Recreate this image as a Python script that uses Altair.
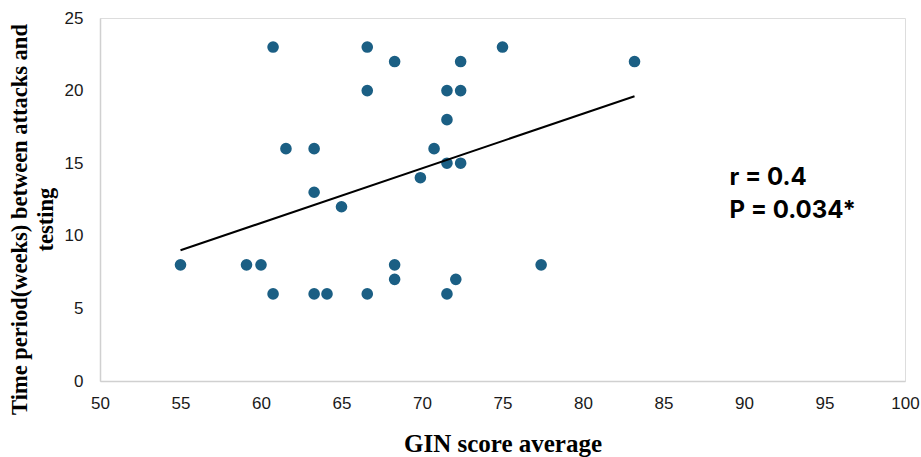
import altair as alt
import pandas as pd

gin_score = [55.0, 59.1, 60.0, 60.75, 60.75, 61.55, 63.3, 63.3, 63.3, 64.1,
             65.0, 66.6, 66.6, 66.6, 68.3, 68.3, 68.3, 69.9, 70.75, 71.55,
             71.55, 71.55, 71.55, 72.1, 72.4, 72.4, 72.4, 75.0, 77.4, 83.2]
weeks = [8, 8, 8, 23, 6, 16, 16, 13, 6, 6,
         12, 23, 20, 6, 22, 8, 7, 14, 16, 20,
         18, 15, 6, 7, 22, 20, 15, 23, 8, 22]

annot_text = ["r = 0.4", "P = 0.034*"]
annot_x = [89.1, 89.1]
annot_y = [14.0, 11.7]

df = pd.DataFrame({"gin": gin_score, "weeks": weeks})
adf = pd.DataFrame({"text": annot_text, "x": annot_x, "y": annot_y})

xscale = alt.Scale(domain=[50, 100], nice=False, zero=False)
yscale = alt.Scale(domain=[0, 25], nice=False)

xaxis = alt.Axis(values=list(range(50, 101, 5)), grid=False, ticks=False,
                 domainColor="#d0d0d0", domainWidth=1.5, labelFlush=False,
                 labelFont="Liberation Sans", labelFontSize=17, labelColor="#1a1a1a",
                 labelPadding=14,
                 title="GIN score average", titleFont="Liberation Serif",
                 titleFontSize=25, titleFontWeight="bold", titleColor="#000000",
                 titlePadding=20)
yaxis = alt.Axis(values=list(range(0, 26, 5)), grid=False, ticks=False,
                 domainColor="#d0d0d0", domainWidth=1.5, labelFlush=False,
                 labelFont="Liberation Sans", labelFontSize=17, labelColor="#1a1a1a",
                 labelPadding=17,
                 title=["Time period(weeks) between attacks and", "testing"],
                 titleFont="Liberation Serif", titleFontSize=22.5,
                 titleFontWeight="bold", titleColor="#000000",
                 titleLineHeight=26, titleX=-69, titleY=201)

base = alt.Chart(df)

points = base.mark_circle(size=135, opacity=1, color="#1b5f84").encode(
    x=alt.X("gin:Q", scale=xscale, axis=xaxis),
    y=alt.Y("weeks:Q", scale=yscale, axis=yaxis),
)

trend = base.transform_regression("gin", "weeks").mark_line(
    color="#000000", strokeWidth=2
).encode(
    x=alt.X("gin:Q", scale=xscale),
    y=alt.Y("weeks:Q", scale=yscale),
)

annot = alt.Chart(adf).mark_text(
    align="left", baseline="middle", font="Inter", fontSize=24,
    fontWeight="bold", color="#000000"
).encode(
    x=alt.X("x:Q", scale=xscale),
    y=alt.Y("y:Q", scale=yscale),
    text="text:N",
)

chart = alt.layer(points, trend, annot).properties(
    width=805, height=363,
    autosize=alt.AutoSizeParams(type="none"),
    padding={"left": 100, "top": 18, "right": 16, "bottom": 76},
).configure_view(stroke=None).configure(background="#ffffff")

chart.save("out.html", embed_options={"renderer": "svg", "actions": False})
